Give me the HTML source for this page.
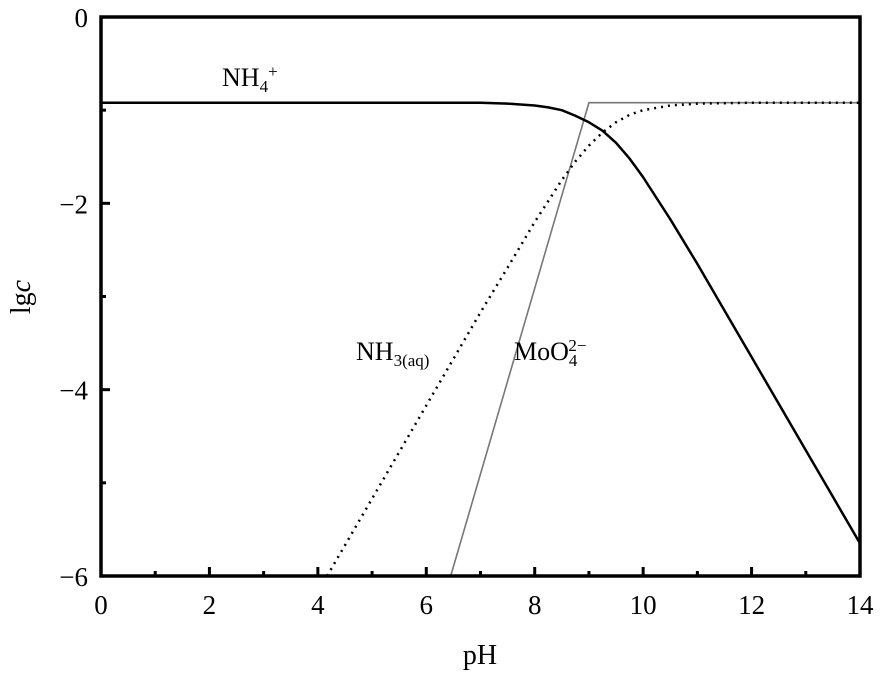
<!DOCTYPE html>
<html><head><meta charset="utf-8"><style>
body{margin:0;background:#fff}
svg text{font-family:"Liberation Serif",serif;fill:#000}
</style></head><body>
<svg width="880" height="670" id="c">
<g id="plot"></g>
</svg>
<script>
const phNH4=[0,1,2,3,4,5,6,7,7.5,8,8.25,8.5,8.75,9,9.25,9.5,9.75,10,10.5,11,11.5,12,12.5,13,13.5,14];
const lgNH4=[-0.92,-0.92,-0.92,-0.92,-0.92,-0.92,-0.92,-0.92,-0.93,-0.95,-0.97,-1.0,-1.06,-1.13,-1.22,-1.35,-1.52,-1.72,-2.17,-2.65,-3.15,-3.65,-4.15,-4.65,-5.15,-5.65];
const phNH3=[4.17,4.5,5,5.5,6,6.5,7,7.5,8,8.5,8.75,9,9.25,9.5,9.75,10,10.5,11,12,14];
const lgNH3=[-6,-5.67,-5.17,-4.67,-4.17,-3.67,-3.17,-2.69,-2.2,-1.75,-1.55,-1.38,-1.24,-1.13,-1.05,-1.0,-0.95,-0.93,-0.92,-0.92];
const phMo=[6.45,9.0,14];
const lgMo=[-6,-0.92,-0.92];
const xTicks=[0,2,4,6,8,10,12,14];
const yTicks=[0,-2,-4,-6];
const L=101,R=860,T=17,B=576;
const sx=v=>L+(v-0)/14*(R-L);
const sy=v=>T+(0-v)/6*(B-T);
const NS="http://www.w3.org/2000/svg";
const g=document.getElementById('plot');
function mk(tag,attrs,name,txt){const e=document.createElementNS(NS,tag);for(const k in attrs)e.setAttribute(k,attrs[k]);


if(txt!==undefined)e.textContent=txt;g.appendChild(e);return e;}
function pts(xs,ys){return xs.map((x,i)=>sx(x)+','+sy(ys[i])).join(' ');}
mk('polyline',{points:pts(phMo,lgMo),fill:'none',stroke:'#777',"stroke-width":1.6},'series-moo4');
mk('polyline',{points:pts(phNH3,lgNH3),fill:'none',stroke:'#000',"stroke-width":2.5,"stroke-dasharray":"2 5","stroke-linejoin":"round"},'series-nh3');
mk('polyline',{points:pts(phNH4,lgNH4),fill:'none',stroke:'#000',"stroke-width":2.5,"stroke-linejoin":"round"},'series-nh4');
mk('rect',{x:L,y:T,width:R-L,height:B-T,fill:'none',stroke:'#000',"stroke-width":3.5},'plot-frame');
for(let v=0;v<=14;v++){const len=v%2===0?9:5;
mk('line',{x1:sx(v),x2:sx(v),y1:B,y2:B-len,stroke:'#000',"stroke-width":3},'x-tick');}
for(let v=0;v>=-6;v-=1){const len=v%2===0?9:5;
mk('line',{x1:L,x2:L+len,y1:sy(v),y2:sy(v),stroke:'#000',"stroke-width":3},'y-tick');}
xTicks.forEach(v=>mk('text',{x:sx(v),y:614,"text-anchor":"middle","font-size":27},'x-tick-label',String(v)));
yTicks.forEach(v=>mk('text',{x:88,y:sy(v)+10,"text-anchor":"end","font-size":27},'y-tick-label',v===0?'0':'\u2212'+(-v)));
mk('text',{x:480,y:664,"text-anchor":"middle","font-size":28},'x-axis-title','pH');
const yt=mk('text',{x:0,y:0,"text-anchor":"middle","font-size":28,transform:"translate(30,297) rotate(-90)"},'y-axis-title','');
yt.innerHTML='lg<tspan font-style="italic">c</tspan>';
const a=mk('text',{x:222,y:86,"font-size":26},'label-nh4','');a.innerHTML='NH<tspan font-size="17" dy="6">4</tspan><tspan font-size="17" dy="-15">+</tspan>';
const b=mk('text',{x:356,y:360,"font-size":26},'label-nh3','');b.innerHTML='NH<tspan font-size="17" dy="6">3(aq)</tspan>';
const c=mk('text',{x:514,y:360,"font-size":26},'label-moo4','');c.innerHTML='MoO<tspan font-size="17" dy="6">4</tspan><tspan font-size="17" dx="-9" dy="-15">2\u2212</tspan>';
</script>
</body></html>
